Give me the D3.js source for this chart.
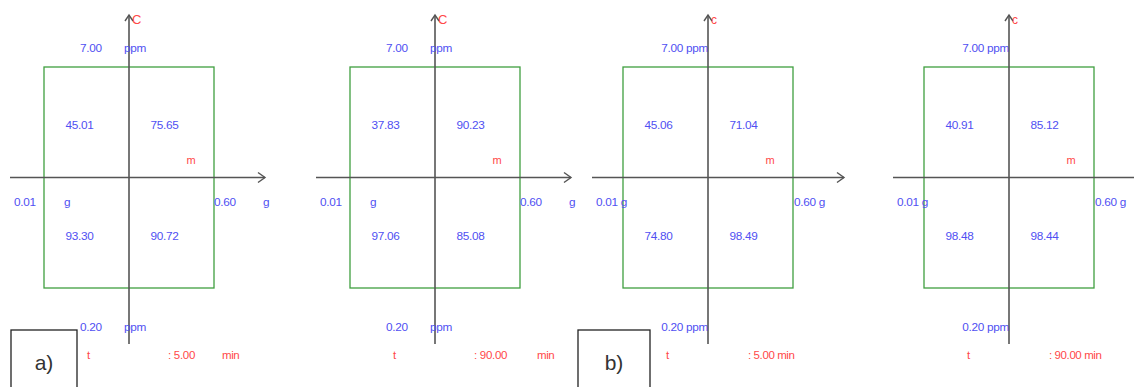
<!DOCTYPE html>
<html>
<head>
<meta charset="utf-8">
<script src="https://cdn.jsdelivr.net/npm/d3@7"></script>
<style>
  body { margin: 0; background: #fff; }
  text { font-family: "Liberation Sans", Arial, sans-serif; }
</style>
</head>
<body>
<div id="viz"></div>
<script>
// chart size
const width = 1134
const height = 387

// data: four response surfaces (top-left, top-right, bottom-left, bottom-right)
const panelTimes = ["5.00", "90.00", "5.00", "90.00"]
const cellValues = [
  [45.01, 75.65, 93.30, 90.72],
  [37.83, 90.23, 97.06, 85.08],
  [45.06, 71.04, 74.80, 98.49],
  [40.91, 85.12, 98.48, 98.44]
]
const massRange = [0.01, 0.60]   // g
const concRange = [0.20, 7.00]   // ppm
const groupLabels = ["a)", "b)"]

// layout: centre of each panel and label style
const centers = [129, 435, 708, 1009]
const compact = [false, false, true, true]
const boxTop = 67, boxBottom = 288, halfW = 85

const blue = "#5050f2"
const red = "#ff4848"
const axisColor = "#555"
const fs = 11.8

var svg = d3.select("#viz")
    .append("svg")
    .attr("width", width)
    .attr("height", height);

function drawPanel(i) {
    const cx = centers[i];
    const x = d3.scaleLinear().domain(massRange).range([cx - halfW, cx + halfW]);
    const y = d3.scaleLinear().domain(concRange).range([boxBottom, boxTop]);
    const xMid = (massRange[0] + massRange[1]) / 2;
    const yMid = (concRange[0] + concRange[1]) / 2;
    const g = svg.append("g");

    // green design box
    g.append("rect")
        .attr("x", x(massRange[0]))
        .attr("y", y(concRange[1]))
        .attr("width", x(massRange[1]) - x(massRange[0]))
        .attr("height", y(concRange[0]) - y(concRange[1]))
        .attr("fill", "none")
        .attr("stroke", "#3f9f3f")
        .attr("stroke-width", 1.3);

    // axes through the centre
    const ax0 = compact[i] ? cx - 116 : cx - 119;
    const ax1 = cx + 136;
    const ay = y(yMid);
    g.append("line")
        .attr("x1", ax0).attr("x2", ax1)
        .attr("y1", ay).attr("y2", ay)
        .attr("stroke", axisColor).attr("stroke-width", 1.6);
    g.append("path")
        .attr("d", "M" + (ax1 - 7) + "," + (ay - 5) + "L" + ax1 + "," + ay + "L" + (ax1 - 7) + "," + (ay + 5))
        .attr("fill", "none").attr("stroke", axisColor).attr("stroke-width", 1.4);

    const vx = x(xMid);
    g.append("line")
        .attr("x1", vx).attr("x2", vx)
        .attr("y1", 15).attr("y2", 344)
        .attr("stroke", axisColor).attr("stroke-width", 1.6);
    g.append("path")
        .attr("d", "M" + (vx - 4) + ",21L" + vx + ",15L" + (vx + 4) + ",21")
        .attr("fill", "none").attr("stroke", axisColor).attr("stroke-width", 1.4);

    // axis names
    g.append("text").attr("x", vx + 3).attr("y", 24)
        .attr("fill", red).attr("font-size", compact[i] ? 12 : 13)
        .text(compact[i] ? "c" : "C");
    g.append("text").attr("x", cx + 62).attr("y", 164)
        .attr("text-anchor", "middle")
        .attr("fill", red).attr("font-size", 11).text("m");

    // level labels
    function label(tx, ty, s, anchor) {
        g.append("text").attr("x", tx).attr("y", ty)
            .attr("text-anchor", anchor || "start")
            .attr("fill", blue).attr("font-size", fs)
            .attr("letter-spacing", -0.3)
            .text(s);
    }
    const f = d3.format(".2f");
    if (compact[i]) {
        label(vx, 52, f(concRange[1]) + " ppm", "end");
        label(vx, 331, f(concRange[0]) + " ppm", "end");
        label(cx - 112, 206, f(massRange[0]) + " g");
        label(x(massRange[1]) + 1, 206, f(massRange[1]) + " g");
    } else {
        label(cx - 49, 52, f(concRange[1]));
        label(vx - 5, 52, "ppm");
        label(cx - 49, 331, f(concRange[0]));
        label(vx - 5, 331, "ppm");
        label(cx - 115, 206, f(massRange[0]));
        label(cx - 65, 206, "g");
        label(x(massRange[1]), 206, f(massRange[1]));
        label(cx + 134, 206, "g");
    }

    // time row
    g.append("text").attr("x", cx - 42).attr("y", 359)
        .attr("fill", red).attr("font-size", 11.5).text("t");
    if (compact[i]) {
        g.append("text").attr("x", cx + 40).attr("y", 359)
            .attr("fill", red).attr("font-size", 11.5).attr("letter-spacing", -0.4)
            .text(": " + panelTimes[i] + " min");
    } else {
        g.append("text").attr("x", cx + 39).attr("y", 359)
            .attr("fill", red).attr("font-size", 11.5).attr("letter-spacing", -0.3)
            .text(": " + panelTimes[i]);
        g.append("text").attr("x", cx + (panelTimes[i].length > 4 ? 102 : 93)).attr("y", 359)
            .attr("fill", red).attr("font-size", 11.5).attr("letter-spacing", -0.4)
            .text("min");
    }

    // responses in the four quadrants
    const qx = [(massRange[0] + xMid) / 2, (xMid + massRange[1]) / 2];
    const qy = [(yMid + concRange[1]) / 2, (concRange[0] + yMid) / 2];
    const cells = cellValues[i].map(function (v, k) {
        return {v: v, mx: qx[k % 2], my: qy[Math.floor(k / 2)]};
    });
    g.selectAll(".cell")
        .data(cells)
        .enter()
        .append("text")
        .attr("class", "cell")
        .attr("x", function (d) { return x(d.mx) - 7; })
        .attr("y", function (d) { return y(d.my) + 7; })
        .attr("text-anchor", "middle")
        .attr("fill", blue)
        .attr("font-size", fs)
        .attr("letter-spacing", -0.3)
        .text(function (d) { return f(d.v); });
}

d3.range(4).forEach(drawPanel);

// group boxes a) and b)
const boxes = [{x: 11, w: 66}, {x: 578, w: 72}];
boxes.forEach(function (b, k) {
    svg.append("rect")
        .attr("x", b.x).attr("y", 330)
        .attr("width", b.w).attr("height", 60)
        .attr("fill", "#fff")
        .attr("stroke", "#222").attr("stroke-width", 1.3);
    svg.append("text")
        .attr("x", b.x + b.w / 2).attr("y", 370)
        .attr("text-anchor", "middle")
        .attr("font-size", 21)
        .attr("fill", "#333")
        .text(groupLabels[k]);
});
</script>
</body>
</html>
